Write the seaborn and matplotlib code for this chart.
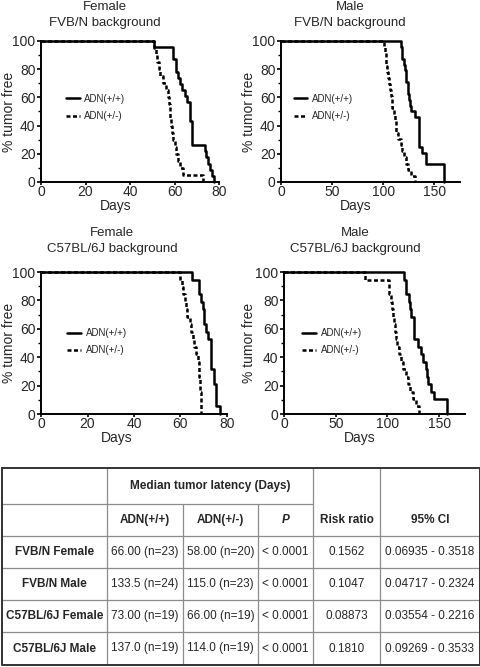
import pandas as pd
import matplotlib
matplotlib.use("Agg")
import matplotlib.pyplot as plt
import seaborn as sns
from matplotlib.ticker import MultipleLocator


# Kaplan-Meier steps (days, % tumor free)
fvb_f_wt_days = [0, 51, 59.5, 60.5, 61.5, 62.5, 63.5, 64.5, 65.5, 67, 68, 73.7, 74.2, 74.9, 76, 76.7, 77.8]
fvb_f_wt_pct = [100, 95.7, 87.0, 78.3, 73.9, 69.6, 65.2, 60.9, 56.5, 43.5, 26.1, 21.7, 17.4, 13.0, 8.7, 4.3, 0]
fvb_f_het_days = [0, 51, 51.5, 52, 53, 53.5, 55, 56, 57, 57.5, 58, 58.5, 59, 59.5, 60, 60.5, 61.5, 62.5, 64, 73]
fvb_f_het_pct = [100, 95, 90, 85, 80, 75, 70, 65, 60, 55, 45, 40, 35, 30, 25, 20, 15, 10, 5, 0]

fvb_m_wt_days = [0, 117, 118, 120, 121, 122, 124, 125.5, 126, 127, 131, 135, 138, 142, 159]
fvb_m_wt_pct = [100, 95.8, 87.5, 83.3, 79.2, 70.8, 62.5, 58.3, 54.2, 50.0, 45.8, 25.0, 20.8, 12.5, 0]
fvb_m_het_days = [0, 101, 102, 102.5, 103, 104, 105, 106, 107, 108, 108.5, 109, 110, 111, 112, 114, 117,
                  118, 120, 122, 124, 127, 131]
fvb_m_het_pct = [100, 95.7, 91.3, 87.0, 82.6, 78.3, 73.9, 69.6, 65.2, 60.9, 56.5, 52.2, 47.8, 43.5, 34.8,
                 30.4, 26.1, 21.7, 17.4, 13.0, 8.7, 4.3, 0]

c57_f_wt_days = [0, 65, 68, 69, 69.5, 70.2, 71, 71.8, 73.2, 74.2, 75.2, 77]
c57_f_wt_pct = [100, 94.7, 84.2, 78.9, 73.7, 63.2, 57.9, 52.6, 31.6, 21.1, 5.3, 0]
c57_f_het_days = [0, 60, 60.5, 61, 62, 62.5, 63, 64, 64.5, 65.5, 66, 66.5, 67.5, 68, 68.5, 69]
c57_f_het_pct = [100, 94.7, 89.5, 84.2, 78.9, 73.7, 68.4, 63.2, 57.9, 52.6, 47.4, 42.1, 36.8, 26.3, 15.8, 0]

c57_m_wt_days = [0, 116.5, 117.5, 118, 120.5, 122, 123, 126, 130, 132, 134.5, 137, 138, 139, 142, 145, 158]
c57_m_wt_pct = [100, 94.7, 89.5, 84.2, 78.9, 73.7, 68.4, 52.6, 47.4, 42.1, 36.8, 31.6, 26.3, 21.1, 15.8, 10.5, 0]
c57_m_het_days = [0, 78, 101.5, 102, 103, 104, 105, 106, 107, 108, 109, 111, 113, 115, 117.5, 120, 122,
                  125, 128, 131]
c57_m_het_pct = [100, 94.7, 89.5, 84.2, 78.9, 73.7, 68.4, 63.2, 57.9, 52.6, 47.4, 42.1, 36.8, 31.6, 26.3,
                 21.1, 15.8, 10.5, 5.3, 0]

# Table
col_headers = ["ADN(+/+)", "ADN(+/-)", "P", "Risk ratio", "95% CI"]
row_labels = ["FVB/N Female", "FVB/N Male", "C57BL/6J Female", "C57BL/6J Male"]
wt_median = ["66.00 (n=23)", "133.5 (n=24)", "73.00 (n=19)", "137.0 (n=19)"]
het_median = ["58.00 (n=20)", "115.0 (n=23)", "66.00 (n=19)", "114.0 (n=19)"]
p_values = ["< 0.0001", "< 0.0001", "< 0.0001", "< 0.0001"]
risk_ratio = ["0.1562", "0.1047", "0.08873", "0.1810"]
ci95 = ["0.06935 - 0.3518", "0.04717 - 0.2324", "0.03554 - 0.2216", "0.09269 - 0.3533"]


sns.set_style("ticks")
plt.rcParams['font.family'] = ['Liberation Sans', 'DejaVu Sans']

W, H = 481, 667
fig = plt.figure(figsize=(W / 100, H / 100), dpi=100)

# overlay in pixel coordinates for free-standing text and the table
over = fig.add_axes([0, 0, 1, 1])
over.set_xlim(0, W)
over.set_ylim(H, 0)
over.axis('off')

panels = [
    dict(sex="Female", strain="FVB/N", box=(41, 41, 219, 182), xmax=80, step=20,
         wt=(fvb_f_wt_days, fvb_f_wt_pct), het=(fvb_f_het_days, fvb_f_het_pct),
         tx=105, ty=7, dx=116, dy=206, yx=9, yy=112, leg=(0.14, 0.625)),
    dict(sex="Male", strain="FVB/N", box=(281, 41, 460, 182), xmax=175, step=50,
         wt=(fvb_m_wt_days, fvb_m_wt_pct), het=(fvb_m_het_days, fvb_m_het_pct),
         tx=350, ty=7, dx=356, dy=206, yx=249, yy=112, leg=(0.07, 0.625)),
    dict(sex="Female", strain="C57BL/6J", box=(41, 272, 227, 414), xmax=80, step=20,
         wt=(c57_f_wt_days, c57_f_wt_pct), het=(c57_f_het_days, c57_f_het_pct),
         tx=112, ty=233, dx=117, dy=438, yx=9, yy=343, leg=(0.14, 0.605)),
    dict(sex="Male", strain="C57BL/6J", box=(284, 272, 465, 414), xmax=175, step=50,
         wt=(c57_m_wt_days, c57_m_wt_pct), het=(c57_m_het_days, c57_m_het_pct),
         tx=355, ty=233, dx=360, dy=438, yx=249, yy=343, leg=(0.10, 0.605)),
]

for p in panels:
    x0, y0, x1, y1 = p["box"]
    ax = fig.add_axes([x0 / W, 1 - y1 / H, (x1 - x0) / W, (y1 - y0) / H])
    wt = pd.DataFrame({"days": p["wt"][0], "pct": p["wt"][1]})
    het = pd.DataFrame({"days": p["het"][0], "pct": p["het"][1]})
    sns.lineplot(data=wt, x="days", y="pct", ax=ax, color="black", lw=1.8,
                 drawstyle="steps-post", estimator=None, sort=False,
                 label="ADN(+/+)", clip_on=False)
    sns.lineplot(data=het, x="days", y="pct", ax=ax, color="black", lw=1.8,
                 linestyle=(0, (1.6, 1.0)), drawstyle="steps-post", estimator=None,
                 sort=False, label="ADN(+/-)", clip_on=False)
    ax.set_xlim(0, p["xmax"])
    ax.set_ylim(0, 100)
    ax.xaxis.set_major_locator(MultipleLocator(p["step"]))
    ax.yaxis.set_major_locator(MultipleLocator(20))
    ax.yaxis.set_minor_locator(MultipleLocator(10))
    ax.tick_params(axis='both', which='major', labelsize=10, width=1.2, color='black')
    ax.tick_params(axis='x', which='major', length=2, pad=0)
    ax.tick_params(axis='y', which='major', length=3, pad=1)
    ax.tick_params(axis='y', which='minor', length=2, width=1.0, color='black')
    ax.set_xlabel("")
    ax.set_ylabel("")
    for s in ["left", "bottom"]:
        ax.spines[s].set_linewidth(1.4)
        ax.spines[s].set_color("black")
    sns.despine(ax=ax)
    ax.patch.set_alpha(0)
    ax.legend(loc="upper left", bbox_to_anchor=p["leg"], frameon=False, fontsize=7,
              handlelength=1.4, handletextpad=0.5, labelspacing=0.75,
              borderpad=0, borderaxespad=0)

    over.text(p["tx"], p["ty"], p["sex"], ha="center", va="center", fontsize=9.5)
    over.text(p["tx"], p["ty"] + 16, p["strain"] + " background", ha="center",
              va="center", fontsize=9.5)
    over.text(p["dx"], p["dy"], "Days", ha="center", va="center", fontsize=10)
    over.text(p["yx"], p["yy"], "% tumor free", ha="center", va="center",
              rotation=90, fontsize=10)

# table grid
cx = [2, 107, 183, 258, 313, 380, 480]
ry = [468, 504, 536, 568, 600, 632, 665]
inner = dict(color="#8c8c8c", lw=0.9)
over.plot([cx[0], cx[4]], [ry[1], ry[1]], **inner)
for y in ry[2:-1]:
    over.plot([cx[0], cx[-1]], [y, y], **inner)
for x in [cx[1], cx[4], cx[5]]:
    over.plot([x, x], [ry[0], ry[-1]], **inner)
for x in [cx[2], cx[3]]:
    over.plot([x, x], [ry[1], ry[-1]], **inner)
over.plot([cx[0], cx[-1], cx[-1], cx[0], cx[0]],
          [ry[0], ry[0], ry[-1], ry[-1], ry[0]], color="#333333", lw=1.4)

fs = 8.5
over.text((cx[1] + cx[4]) / 2, (ry[0] + ry[1]) / 2, "Median tumor latency (Days)",
          ha="center", va="center", fontsize=fs, fontweight="bold")
hy = (ry[1] + ry[2]) / 2
for i, h in enumerate(col_headers):
    over.text((cx[i + 1] + cx[i + 2]) / 2, hy, h, ha="center", va="center",
              fontsize=fs, fontweight="bold", fontstyle="italic" if h == "P" else "normal")

cols = [wt_median, het_median, p_values, risk_ratio, ci95]
for r, lab in enumerate(row_labels):
    yc = (ry[r + 2] + ry[r + 3]) / 2
    over.text((cx[0] + cx[1]) / 2, yc, lab, ha="center", va="center", fontsize=fs,
              fontweight="bold")
    for c, vals in enumerate(cols):
        over.text((cx[c + 1] + cx[c + 2]) / 2, yc, vals[r], ha="center", va="center",
                  fontsize=fs)

fig.savefig("out.png", dpi=100)
